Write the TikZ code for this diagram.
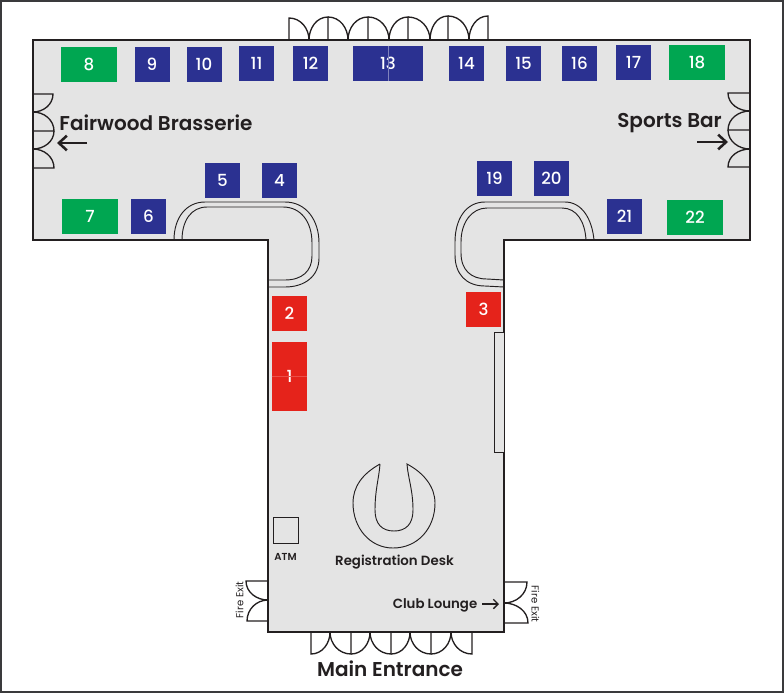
\documentclass[tikz,border=0pt]{standalone}
\usepackage{fontspec}
\setmainfont{Poppins}[BoldFont=Poppins SemiBold]
\newfontfamily\seatfont{Poppins Medium}
\usetikzlibrary{arrows.meta}
\definecolor{seatblue}{HTML}{2B3191}
\definecolor{seatgreen}{HTML}{00A651}
\definecolor{seatred}{HTML}{E5231B}
\definecolor{hallgray}{HTML}{E4E4E4}
\definecolor{inkdark}{HTML}{231F20}
\definecolor{framegray}{HTML}{3A3A3C}
\begin{document}
\begin{tikzpicture}[
	x=0.75pt,y=-0.75pt,
	seatnode/.style={text=white, font=\seatfont\fontsize{12.5}{14}\selectfont, minimum width=26.25pt, minimum height=26.25pt, inner sep=0pt},
	bluenode/.style={seatnode, fill=seatblue},
	rednode/.style={seatnode, fill=seatred},
	greennode/.style={seatnode, fill=seatgreen, minimum width=42pt},
	wall/.style={draw=inkdark, line width=1pt},
	doorline/.style={draw=inkdark, line width=1pt},
	counter/.style={draw=inkdark, line width=0.7pt},
	pointer/.style={-{Straight Barb[length=6pt,width=11pt]}, draw=inkdark},
	bigtext/.style={text=inkdark, inner sep=0pt, font=\fontsize{15}{17}\selectfont\bfseries},
	smalltext/.style={text=inkdark, inner sep=0pt, font=\fontsize{10}{12}\selectfont\bfseries},
	tinytext/.style={text=inkdark, inner sep=0pt, font=\fontsize{7.6}{9}\selectfont},
	]
	\useasboundingbox (0,0) rectangle (784,693);
	\draw[draw=framegray, line width=1.2pt] (1,1) rectangle (783,692);

	%Hall
	\draw[wall, fill=hallgray] (33,40) -- (750,40) -- (750,240) -- (504,240) -- (504,632) -- (268,632) -- (268,240) -- (33,240) -- cycle;

	%Doors top
	\draw[doorline] (289,40) -- (289,18) to[out=0,in=90] (309,40);
	\draw[doorline] (328,40) -- (328,17) to[out=180,in=90] (309,40);
	\draw[doorline] (328,17) to[out=0,in=90] (348,40);
	\draw[doorline] (368,40) -- (368,17) to[out=180,in=90] (348,40);
	\draw[doorline] (368,17) to[out=0,in=90] (389,40);
	\draw[doorline] (408,40) -- (408,17) to[out=180,in=90] (389,40);
	\draw[doorline] (408,17) to[out=0,in=90] (430,40);
	\draw[doorline] (448,40) -- (448,16) to[out=180,in=90] (430,40);
	\draw[doorline] (448,16) to[out=0,in=90] (469,40);
	\draw[doorline] (488,40) -- (488,16) to[out=180,in=90] (469,40);

	%Doors left
	\draw[doorline] (33,94) -- (53,94) to[out=-90,in=0] (33,112);
	\draw[doorline] (33,131) -- (54,131) to[out=90,in=0] (33,112);
	\draw[doorline] (54,131) to[out=-90,in=0] (33,149);
	\draw[doorline] (33,168) -- (54,168) to[out=90,in=0] (33,149);

	%Doors right
	\draw[doorline] (750,93) -- (728,93) to[out=-90,in=180] (750,111);
	\draw[doorline] (750,130) -- (728,130) to[out=90,in=180] (750,111);
	\draw[doorline] (728,130) to[out=-90,in=180] (750,149);
	\draw[doorline] (750,167) -- (728,167) to[out=90,in=180] (750,149);

	%Doors bottom
	\draw[doorline] (311,632) -- (311,654) to[out=0,in=-90] (330,632);
	\draw[doorline] (351,632) -- (351,654) to[out=180,in=-90] (330,632);
	\draw[doorline] (351,654) to[out=0,in=-90] (370,632);
	\draw[doorline] (391,632) -- (391,654) to[out=180,in=-90] (370,632);
	\draw[doorline] (391,654) to[out=0,in=-90] (410,632);
	\draw[doorline] (431,632) -- (431,654) to[out=180,in=-90] (410,632);
	\draw[doorline] (431,654) to[out=0,in=-90] (451,632);
	\draw[doorline] (472,632) -- (472,654) to[out=180,in=-90] (451,632);

	%Fire exits
	\draw[doorline] (268,581) -- (246,581) to[out=-90,in=180] (268,600);
	\draw[doorline] (268,621) -- (247,621) to[out=90,in=180] (268,600);
	\draw[doorline] (504,582) -- (527,582) to[out=-90,in=0] (504,603);
	\draw[doorline] (504,623) -- (528,623) to[out=90,in=0] (504,603);

	%Counters
	\draw[counter] (174,240) .. controls (174,218) and (186,202) .. (205,202) -- (285,202) .. controls (306,202) and (319,220) .. (319,243) -- (319,258) .. controls (319,276) and (305,287) .. (285,287) -- (268,287);
	\draw[counter] (182,240) .. controls (182,221) and (191,207) .. (207,207) -- (283,207) .. controls (301,207) and (312,222) .. (312,243) -- (312,256) .. controls (312,271) and (302,280) .. (285,280) -- (268,280);
	\draw[counter] (594,240) .. controls (592,219) and (582,202) .. (565,202) -- (485,202) .. controls (466,202) and (455,219) .. (455,242) -- (455,255) .. controls (455,274) and (466,286) .. (485,286) -- (504,287);
	\draw[counter] (586,240) .. controls (585,222) and (577,208) .. (562,208) -- (487,208) .. controls (472,208) and (461,222) .. (461,242) -- (461,253) .. controls (461,270) and (471,279) .. (487,279) -- (504,280);
	\draw[counter, fill=hallgray] (494.5,332.5) rectangle (504,452.5);

	%Registration desk
	\draw[counter] (380,464) .. controls (362,474) and (353,487) .. (353,503) .. controls (353,528) and (370,548) .. (393,548) .. controls (418,548) and (435,528) .. (435,503) .. controls (435,487) and (424,473) .. (407,464) .. controls (408,478) and (413,490) .. (413,510) .. controls (413,524) and (406,531) .. (394,531) .. controls (382,531) and (375,524) .. (375,510) .. controls (375,490) and (379,478) .. (380,464);

	%ATM box
	\draw[counter] (273.5,517.5) rectangle (298.5,543.5);

	%Nodes
	\node[greennode]	(n8) 	at	(89,64.5) 	{8};
	\node[bluenode]		(n9) 	at	(152,64.5) 	{9};
	\node[bluenode]		(n10) 	at	(204,64.5) 	{10};
	\node[bluenode]		(n11) 	at	(256.5,63) 	{11};
	\node[bluenode]		(n12) 	at	(310.5,63.5) 	{12};
	\node[bluenode, minimum width=52.5pt]	(n13) 	at	(388,63.5) 	{13};
	\node[bluenode]		(n14) 	at	(466.5,63.5) 	{14};
	\node[bluenode]		(n15) 	at	(523.5,63.5) 	{15};
	\node[bluenode]		(n16) 	at	(579.5,63.5) 	{16};
	\node[bluenode]		(n17) 	at	(633.5,62.5) 	{17};
	\node[greennode]	(n18) 	at	(697,62) 	{18};
	\node[bluenode]		(n5) 	at	(222.5,180.5) 	{5};
	\node[bluenode]		(n4) 	at	(279.5,180.5) 	{4};
	\node[bluenode]		(n19) 	at	(494.5,178.5) 	{19};
	\node[bluenode]		(n20) 	at	(551.5,178.5) 	{20};
	\node[greennode]	(n7) 	at	(90,216.5) 	{7};
	\node[bluenode]		(n6) 	at	(148.5,216.5) 	{6};
	\node[bluenode]		(n21) 	at	(624.5,216.5) 	{21};
	\node[greennode]	(n22) 	at	(695,217.5) 	{22};
	\node[rednode]		(n2) 	at	(289.5,313.5) 	{2};
	\node[rednode, minimum height=52pt]	(n1) 	at	(289.5,376.5) 	{1};
	\node[rednode]		(n3) 	at	(483.5,309.5) 	{3};
	\draw[draw=seatblue!60!white, line width=0.4pt] (n13.north) -- (n13.south);
	\draw[draw=seatred!80!white, line width=0.3pt] (n1.west) -- (n1.east);

	%Labels
	\node[bigtext]	(fairwood) 	at	(156,123) 	{Fairwood Brasserie};
	\node[bigtext]	(sportsbar) 	at	(669.5,123.5) 	{Sports Bar};
	\node[bigtext]	(mainentrance) 	at	(390,669) 	{Main Entrance};
	\node[smalltext]	(registration) 	at	(394.5,562) 	{Registration Desk};
	\node[smalltext]	(clublounge) 	at	(435,605.5) 	{Club Lounge};
	\node[tinytext]	(atm) 	at	(285.5,556.5) 	{\bfseries ATM};
	\node[tinytext, rotate=90]	(fireleft) 	at	(239.5,600) 	{Fire Exit};
	\node[tinytext, rotate=-90]	(fireright) 	at	(535.5,604) 	{Fire Exit};

	%Arrows
	\coordinate (a1) at (87,143);
	\coordinate (a2) at (57,143);
	\coordinate (a3) at (697,142);
	\coordinate (a4) at (728,142);
	\coordinate (a5) at (482,604);
	\coordinate (a6) at (499,604);
	\draw[pointer, line width=1.9pt] (a1) -- (a2);
	\draw[pointer, line width=1.9pt] (a3) -- (a4);
	\draw[pointer, line width=1pt, -{Straight Barb[length=3.5pt,width=7pt]}] (a5) -- (a6);
\end{tikzpicture}
\end{document}
